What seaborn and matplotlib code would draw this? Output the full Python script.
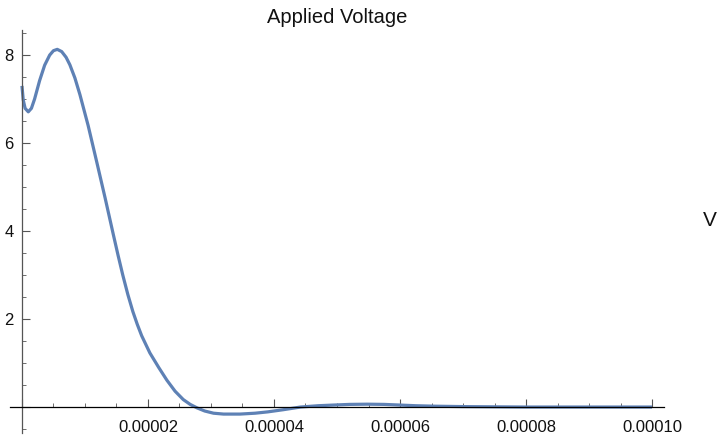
import matplotlib
matplotlib.use("Agg")
import matplotlib.pyplot as plt
import seaborn as sns
import pandas as pd
from matplotlib.ticker import MultipleLocator, FuncFormatter

# time in microseconds (converted to seconds below)
time_us = [0, 0.2, 0.5, 1.0, 1.5, 2.0, 2.8, 3.6, 4.4, 5.0, 5.6, 6.3, 7.0, 7.6, 8.4,
           9.2, 10.5, 11.9, 13.2, 14.5, 15.25, 16.0, 16.8, 17.6, 18.3, 19.0, 20.3,
           21.7, 23.0, 24.3, 25.6, 26.7, 27.8, 29.0, 30.4, 32.0, 34.6, 37.0, 39.0,
           41.5, 44.2, 47.0, 49.4, 52.0, 54.8, 57.5, 60.0, 62.5, 65.3, 70, 75, 80,
           85, 90, 95, 100]
voltage = [7.30, 6.98, 6.79, 6.71, 6.79, 7.00, 7.42, 7.77, 8.00, 8.10, 8.13, 8.08,
           7.95, 7.78, 7.48, 7.10, 6.40, 5.55, 4.75, 3.92, 3.45, 3.00, 2.56, 2.17,
           1.88, 1.62, 1.23, 0.90, 0.61, 0.36, 0.17, 0.06, -0.02, -0.09, -0.14,
           -0.16, -0.16, -0.14, -0.11, -0.06, 0.0, 0.03, 0.045, 0.06, 0.065, 0.06,
           0.045, 0.03, 0.02, 0.01, 0.005, 0.0, 0.0, 0.0, 0.0, 0.0]

title = "Applied Voltage"
unit_label = "V"

df = pd.DataFrame({"t": [v * 1e-6 for v in time_us], "V": voltage})

sns.set_theme(style="white")
plt.rcParams["font.family"] = ["Liberation Sans", "DejaVu Sans"]

fig = plt.figure(figsize=(7.19, 4.37), dpi=100)
W, H = 719, 437
left_px, right_px, top_px, bottom_px = 10, 664, 30, 433
ax = fig.add_axes([left_px / W, 1 - bottom_px / H, (right_px - left_px) / W,
                   (bottom_px - top_px) / H])

sns.lineplot(data=df, x="t", y="V", ax=ax, color="#5E81B5", linewidth=2.3,
             sort=False, estimator=None)
for line in ax.lines:
    line.set_solid_joinstyle("round")
    line.set_solid_capstyle("butt")

ax.set_xlim(-1.9e-6, 101.9e-6)
ax.set_ylim(-0.59, 8.57)
ax.set_xlabel("")
ax.set_ylabel("")

for s in ["top", "right"]:
    ax.spines[s].set_visible(False)
ax.spines["left"].set_position(("data", 0))
ax.spines["bottom"].set_position(("data", 0))
ax.spines["left"].set_color("#555555")
ax.spines["bottom"].set_color("#000000")
ax.spines["left"].set_linewidth(0.9)
ax.spines["bottom"].set_linewidth(0.9)

ax.xaxis.set_major_locator(MultipleLocator(2e-5))
ax.xaxis.set_minor_locator(MultipleLocator(5e-6))
ax.yaxis.set_major_locator(MultipleLocator(2))
ax.yaxis.set_minor_locator(MultipleLocator(0.5))
ax.xaxis.set_major_formatter(FuncFormatter(lambda v, p: "" if abs(v) < 1e-9 else f"{v:.5f}"))
ax.yaxis.set_major_formatter(FuncFormatter(lambda v, p: "" if abs(v) < 1e-9 else f"{v:.0f}"))

ax.tick_params(axis="both", which="major", direction="in", length=5.5, width=0.8,
               color="#555555", labelsize=12, labelcolor="#111111")
ax.tick_params(axis="both", which="minor", direction="in", length=3, width=0.6,
               color="#555555")
ax.tick_params(axis="x", which="major", pad=9)
ax.tick_params(axis="y", which="major", pad=6)
ax.tick_params(left=True, bottom=True, which="both")
ax.grid(False)

ax.set_title(title, fontsize=14.5, pad=5, color="#111111")
fig.text(710 / W, 1 - 220 / H, unit_label, fontsize=15, ha="center", va="center",
         color="#111111")

fig.savefig("out.png", dpi=100)
